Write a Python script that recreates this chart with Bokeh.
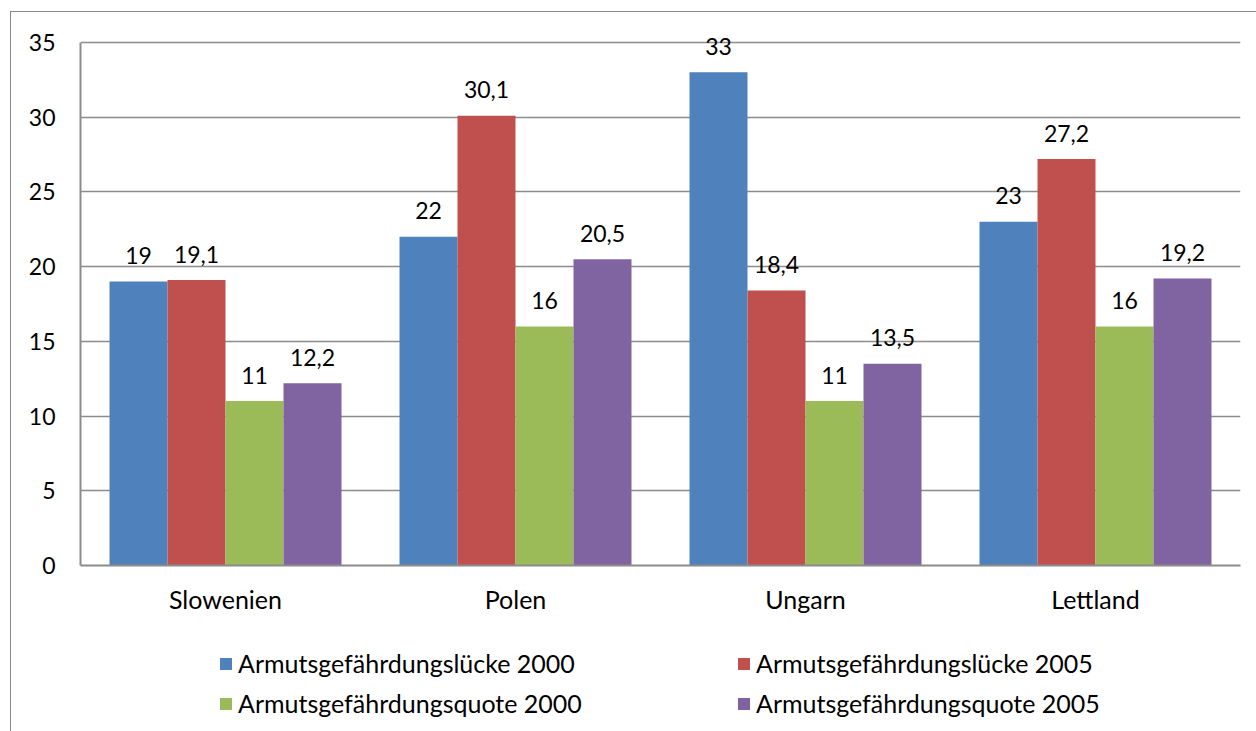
from bokeh.plotting import figure
from bokeh.layouts import column
from bokeh.models import ColumnDataSource, FactorRange, Legend, LegendItem, LabelSet
from bokeh.core.properties import value
from bokeh.transform import dodge
from bokeh.embed import file_html
from bokeh.resources import INLINE

categories = ["Slowenien", "Polen", "Ungarn", "Lettland"]
series_names = ["Armutsgefährdungslücke 2000", "Armutsgefährdungslücke 2005",
                "Armutsgefährdungsquote 2000", "Armutsgefährdungsquote 2005"]
luecke_2000 = [19, 22, 33, 23]
luecke_2005 = [19.1, 30.1, 18.4, 27.2]
quote_2000 = [11, 16, 11, 16]
quote_2005 = [12.2, 20.5, 13.5, 19.2]
colors = ["#4F81BD", "#C0504D", "#9BBB59", "#8064A2"]
y_ticks = [0, 5, 10, 15, 20, 25, 30, 35]

FONT = "Lato"
NUM_FS = "23px"
TXT_FS = "25px"

def fmt(v):
    return str(int(v)) if float(v).is_integer() else str(v).replace(".", ",")

p = figure(x_range=FactorRange(*categories, range_padding=0), y_range=(0, 35.4),
           width=1246, height=609, output_backend="svg", toolbar_location=None,
           min_border_left=69, min_border_right=17, min_border_top=24, min_border_bottom=56)
p.outline_line_color = None
p.background_fill_color = "white"
p.border_fill_color = "white"

series = [luecke_2000, luecke_2005, quote_2000, quote_2005]
offsets = [-0.3, -0.1, 0.1, 0.3]
for vals, col, off in zip(series, colors, offsets):
    src = ColumnDataSource(dict(cat=categories, val=vals, lab=[fmt(v) for v in vals]))
    p.vbar(x=dodge("cat", off, range=p.x_range), top="val", width=0.2, source=src,
           fill_color=col, line_color=None)
    labels = LabelSet(x=dodge("cat", off, range=p.x_range), y="val", text="lab", source=src,
                      text_align="center", text_baseline="middle", y_offset=26,
                      text_font=value(FONT), text_font_size=value(NUM_FS), text_color="black")
    p.add_layout(labels)

p.yaxis.ticker = y_ticks
p.yaxis.bounds = (0, 35)
p.ygrid.grid_line_color = "#8c8c8c"
p.ygrid.grid_line_width = 1.5
p.xgrid.grid_line_color = None
for ax in (p.xaxis, p.yaxis):
    ax.axis_line_color = "#8c8c8c"
    ax.axis_line_width = 2
    ax.major_tick_line_color = None
    ax.minor_tick_line_color = None
    ax.major_tick_out = 0
    ax.major_tick_in = 0
    ax.major_label_text_font = FONT
    ax.major_label_text_color = "black"
p.yaxis.major_label_standoff = 25
p.yaxis.major_label_text_font_size = NUM_FS
p.xaxis.major_label_text_font_size = TXT_FS
p.xaxis.major_label_standoff = 18

# legend panel below the chart (swatches are zero-height bars, only shown in the legend)
lg = figure(width=1246, height=111, output_backend="svg", toolbar_location=None,
            x_axis_location=None, y_axis_location=None, x_range=(0, 1), y_range=(0, 1),
            min_border_left=0, min_border_right=0, min_border_top=0, min_border_bottom=0)
lg.outline_line_color = None
lg.xgrid.grid_line_color = None
lg.ygrid.grid_line_color = None
lg.border_fill_color = "white"
lg_renderers = [lg.vbar(x=[0.5], top=[0], width=0.01, fill_color=c, line_color=None)
                for c in colors]

# column-major fill: first column = items 0 and 2, second column = items 1 and 3
order = [0, 2, 1, 3]
items = [LegendItem(label=series_names[i], renderers=[lg_renderers[i]]) for i in order]
legend = Legend(items=items, ncols=2, location=(138, 14),
                glyph_width=15, glyph_height=15, label_standoff=5,
                label_width=488, label_height=30, spacing=10, padding=0, margin=0,
                border_line_color=None, background_fill_alpha=0,
                label_text_font=FONT, label_text_font_size=TXT_FS, label_text_color="black")
lg.add_layout(legend, "center")

layout = column(p, lg, margin=(11, 0, 0, 10), spacing=0)
layout.styles = {"border-top": "1px solid #8a8a8a", "border-left": "1px solid #8a8a8a"}

open("out.html", "w").write(file_html(layout, INLINE))
